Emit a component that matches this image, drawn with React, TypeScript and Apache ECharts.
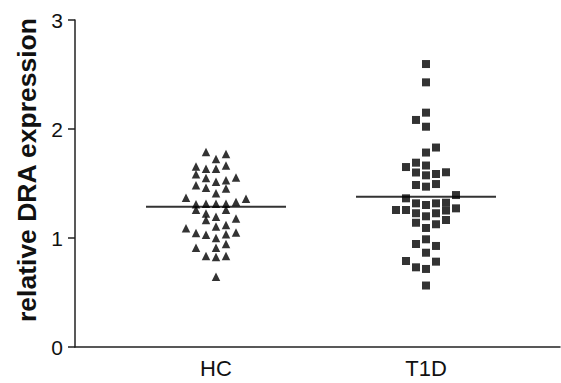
import React, { useEffect, useRef } from "react";
import * as echarts from "echarts";

// Categories and their positions on the (hidden-scale) x value axis
const categories = ["HC", "T1D"];
const categoryPos = [1, 2];

// y axis ticks
const yTicks = [0, 1, 2, 3];

// Each point: [jitter column offset, relative DRA expression]
const hcPoints: [number, number][] = [
  [-1, 1.79], [0, 1.725], [1, 1.77],
  [-2, 1.655], [-1, 1.635], [0, 1.635], [1, 1.665],
  [-2, 1.585], [-1, 1.55], [0, 1.515], [1, 1.53], [2, 1.555],
  [-2, 1.485], [-1, 1.46], [1, 1.455],
  [0, 1.41],
  [-3, 1.37], [3, 1.36],
  [-2, 1.31], [-1, 1.315], [0, 1.315], [1, 1.315], [2, 1.33],
  [-2, 1.26], [1, 1.26],
  [-1, 1.225], [0, 1.195], [-1, 1.165], [2, 1.18],
  [-3, 1.09], [-2, 1.045], [-1, 1.03], [0, 1.105], [1, 1.12], [0, 1.0], [1, 1.035], [2, 1.05],
  [-2, 0.91], [0, 0.91], [1, 0.945],
  [-1, 0.835], [0, 0.825], [1, 0.835],
  [0, 0.645],
];

const t1dPoints: [number, number][] = [
  [0, 2.596], [0, 2.428], [0, 2.15], [-1, 2.083], [0, 2.021],
  [1, 1.83], [0, 1.784], [-1, 1.691], [-2, 1.651], [0, 1.665],
  [-1, 1.601], [0, 1.575], [1, 1.587], [2, 1.603],
  [-1, 1.486], [0, 1.471], [1, 1.495],
  [-2, 1.364], [3, 1.394],
  [-1, 1.318], [0, 1.303], [1, 1.318], [2, 1.324], [2, 1.252],
  [-3, 1.257], [-2, 1.257], [3, 1.272],
  [-1, 1.227], [0, 1.199], [1, 1.227],
  [-1, 1.14], [0, 1.092], [1, 1.126], [2, 1.165],
  [0, 0.988], [-1, 0.945], [1, 0.927], [0, 0.865],
  [-2, 0.789], [-1, 0.731], [0, 0.716], [1, 0.783],
  [0, 0.564],
];

// Horizontal summary lines (centre) per group
const groupMedians = [1.287, 1.379];

const COL_STEP = 10 / 210;
const LINE_HALF = 70 / 210;
const X_MIN = 1 - 141 / 210;
const X_MAX = 2 + 134 / 210;

const FONT = "'Liberation Sans', Arial, Helvetica, sans-serif";

export default function App() {
  const ref = useRef<HTMLDivElement>(null);

  useEffect(() => {
    if (!ref.current) return;
    const chart = echarts.init(ref.current, undefined, { renderer: "svg" });

    const toXY = (pts: [number, number][], center: number) =>
      pts.map(([c, v]) => [center + c * COL_STEP, v]);

    const option: any = {
      animation: false,
      backgroundColor: "#ffffff",
      grid: { left: 75, right: 1, top: 20, bottom: 36, containLabel: false },
      xAxis: {
        type: "value",
        min: X_MIN,
        max: X_MAX,
        axisLine: { show: true, lineStyle: { color: "#222", width: 1.5 } },
        axisTick: { show: false },
        splitLine: { show: false },
        axisLabel: {
          customValues: categoryPos,
          formatter: (v: number) => {
            const i = categoryPos.findIndex((p) => Math.abs(p - v) < 1e-6);
            return i >= 0 ? categories[i] : "";
          },
          color: "#111",
          fontSize: 22,
          fontFamily: FONT,
          margin: 10,
        },
      },
      yAxis: {
        type: "value",
        min: yTicks[0],
        max: yTicks[yTicks.length - 1],
        interval: 1,
        axisLine: { show: true, lineStyle: { color: "#222", width: 1.5 } },
        axisTick: { show: true, inside: false, length: 7, lineStyle: { color: "#222", width: 1.5 } },
        splitLine: { show: false },
        axisLabel: { color: "#111", fontSize: 21, fontFamily: FONT, margin: 12 },
      },
      graphic: [
        {
          type: "text",
          x: 27,
          y: 170,
          rotation: Math.PI / 2,
          style: {
            text: "relative DRA expression",
            font: `bold 26.5px ${FONT}`,
            fill: "#111",
            align: "center",
            verticalAlign: "middle",
          },
        },
      ],
      series: [
        {
          name: "HC",
          type: "scatter",
          symbol: "triangle",
          symbolSize: [8.5, 8.5],
          itemStyle: { color: "#000" },
          data: toXY(hcPoints, categoryPos[0]),
        },
        {
          name: "T1D",
          type: "scatter",
          symbol: "rect",
          symbolSize: 8,
          itemStyle: { color: "#000" },
          data: toXY(t1dPoints, categoryPos[1]),
        },
        ...groupMedians.map((m, i) => ({
          name: categories[i] + " median",
          type: "line",
          symbol: "none",
          lineStyle: { color: "#333", width: 2 },
          data: [
            [categoryPos[i] - LINE_HALF, m],
            [categoryPos[i] + LINE_HALF, m],
          ],
          z: 1,
        })),
      ],
    };

    chart.setOption(option);
    return () => chart.dispose();
  }, []);

  return (
    <div
      ref={ref}
      style={{ position: "fixed", left: 0, top: 0, width: 561, height: 383 }}
    />
  );
}
